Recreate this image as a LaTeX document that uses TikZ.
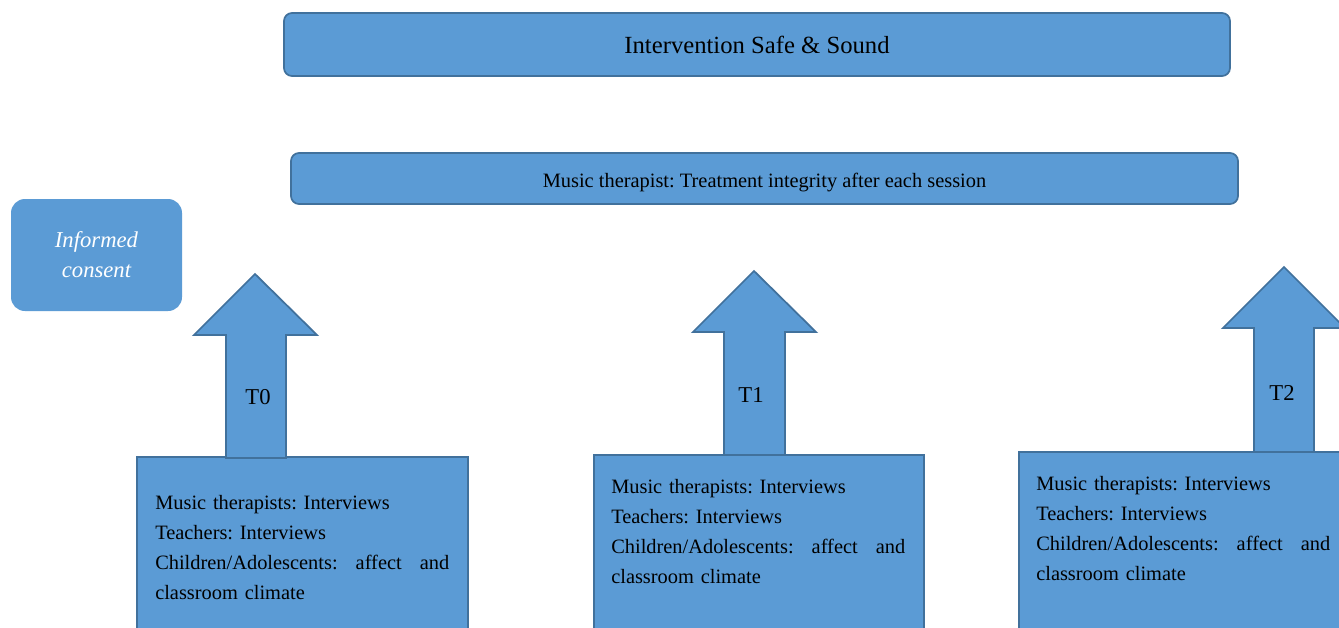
\documentclass[tikz,border=0pt]{standalone}
\usepackage{fontspec}
\setmainfont{Liberation Serif}
\frenchspacing
\definecolor{boxblue}{HTML}{5B9BD5}
\definecolor{edgeblue}{HTML}{41719C}
\tikzset{
  bluebox/.style={fill=boxblue,draw=edgeblue,line width=1.3pt},
  listtext/.style={inner sep=0pt,anchor=north west,text width=220.5pt,align=left,
    font=\fontsize{15.3}{22.5}\selectfont},
  tlabel/.style={inner sep=0pt,font=\fontsize{17}{20}\selectfont}
}

\begin{document}
\begin{tikzpicture}[x=0.75pt,y=-0.75pt]
\clip (0,0) rectangle (1339,628);
\fill[white] (0,0) rectangle (1339,628);

\node(safe) at (757,44.5)[bluebox,rounded corners=6pt,minimum width=709.5pt,minimum height=47.25pt,
  font=\fontsize{18.5}{22}\selectfont] {Intervention Safe \& Sound};
\node(integrity) at (764.5,178.5)[bluebox,rounded corners=6pt,minimum width=710.25pt,minimum height=38.25pt,
  text height=13pt,text depth=0pt,font=\fontsize{15.3}{18}\selectfont] {Music therapist: Treatment integrity after each session};
\node(consent) at (96.5,255)[fill=boxblue,rounded corners=10.5pt,minimum width=128.25pt,minimum height=84pt,
  text=white,align=center,font=\itshape\fontsize{17}{22.5}\selectfont] {Informed\\consent};

% measurement boxes
\draw[bluebox] (137,457) rectangle (468,700);
\draw[bluebox] (594,455) rectangle (924,700);
\draw[bluebox] (1019,452) rectangle (1360,700);

% arrows
\draw[bluebox] (226,458) -- (226,335) -- (194,335) -- (255,274) -- (317,335) -- (286,335) -- (286,458) -- cycle;
\draw[bluebox] (724,455) -- (724,332) -- (693,332) -- (754,271) -- (816,332) -- (785,332) -- (785,455) -- cycle;
\draw[bluebox] (1254,452) -- (1254,328) -- (1223,328) -- (1284,267) -- (1345,328) -- (1314,328) -- (1314,452) -- cycle;

\node(t0) at (258,397)[tlabel] {T0};
\node(t1) at (751,395)[tlabel] {T1};
\node(t2) at (1282,393)[tlabel] {T2};

\node(list0) at (155,495)[listtext] {Music therapists: Interviews\\Teachers: Interviews\\
  Children/Adolescents:\hfill affect\hfill and\\classroom climate};
\node(list1) at (611,479)[listtext] {Music therapists: Interviews\\Teachers: Interviews\\
  Children/Adolescents:\hfill affect\hfill and\\classroom climate};
\node(list2) at (1036,476)[listtext] {Music therapists: Interviews\\Teachers: Interviews\\
  Children/Adolescents:\hfill affect\hfill and\\classroom climate};

\end{tikzpicture}
\end{document}
